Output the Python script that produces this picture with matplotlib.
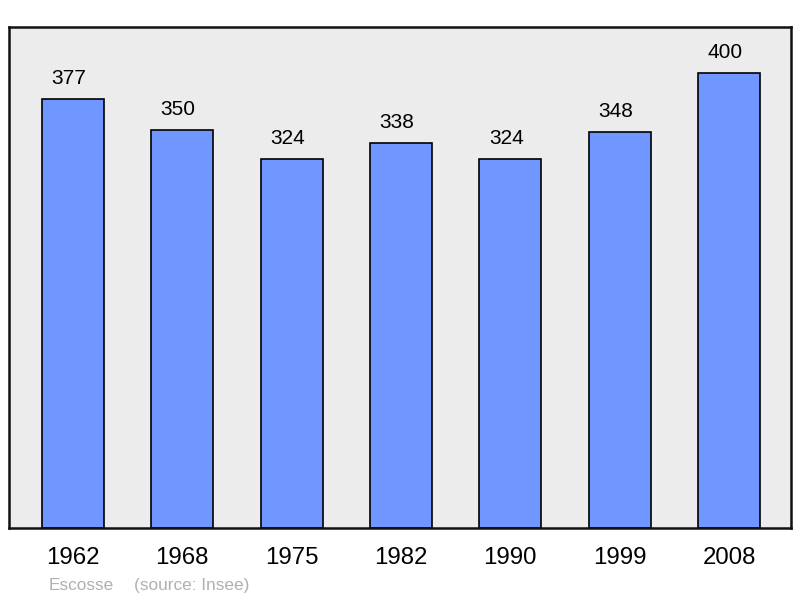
import matplotlib.pyplot as plt
import numpy as np

plt.rcParams["font.family"] = ["Liberation Sans", "DejaVu Sans"]

years = ["1962", "1968", "1975", "1982", "1990", "1999", "2008"]
population = [377, 350, 324, 338, 324, 348, 400]

fig = plt.figure(figsize=(8, 5.98), dpi=100)
ax = fig.add_axes([9 / 800, 70 / 598, 782 / 800, 501 / 598])
ax.set_facecolor("#ececec")

x = np.arange(len(years))
bars = ax.bar(x, population, width=0.567, color="#7096ff", edgecolor="black", linewidth=1.2, zorder=2)

for xi, v in zip(x, population):
    ax.annotate(str(v), (xi, v), xytext=(-3, 11), textcoords="offset points",
                ha="center", va="baseline", fontsize=15)

ax.set_xlim(-0.585, 6.567)
ax.set_ylim(0, 440.4)
ax.set_yticks([])
ax.set_xticks(x)
ax.set_xticklabels(years, fontsize=17.3)
ax.tick_params(axis="x", length=0, pad=14)
for s in ax.spines.values():
    s.set_linewidth(1.8)
    s.set_color("#111111")

fig.text(49 / 800, 1 - 590 / 598, "Escosse", color="#b0b0b0", fontsize=12.4, va="baseline")
fig.text(134 / 800, 1 - 590 / 598, "(source: Insee)", color="#b0b0b0", fontsize=12.4, va="baseline")

fig.savefig("out.png", dpi=100)
